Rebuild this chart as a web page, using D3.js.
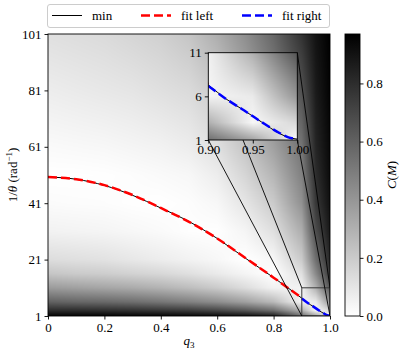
<!DOCTYPE html>
<html>
<head>
<meta charset="utf-8">
<script src="https://cdn.jsdelivr.net/npm/d3@7"></script>
<style>
  body { margin: 0; background: #fff; }
  text { font-family: "Liberation Serif", "DejaVu Serif", serif; }
</style>
</head>
<body>
<div id="chart-area"></div>
<script>
// grid of C(M) (rows = 1/theta, columns = q3)
const gridQ = [0, 0.1, 0.2, 0.3, 0.4, 0.5, 0.6, 0.7, 0.8, 0.9, 0.95, 1.0];
const gridInvTheta = [1, 3, 6, 11, 16, 21, 31, 41, 51, 61, 81, 101];
const costGrid = [
	[0.96, 0.96, 0.96, 0.95, 0.95, 0.94, 0.93, 0.91, 0.86, 0.55, 0.35, 0.0],
	[0.80, 0.80, 0.79, 0.78, 0.76, 0.74, 0.70, 0.64, 0.55, 0.30, 0.03, 0.15],
	[0.60, 0.58, 0.57, 0.55, 0.52, 0.48, 0.43, 0.36, 0.26, 0.04, 0.08, 0.40],
	[0.38, 0.36, 0.34, 0.32, 0.29, 0.25, 0.20, 0.13, 0.05, 0.05, 0.30, 0.65],
	[0.22, 0.20, 0.19, 0.17, 0.15, 0.12, 0.08, 0.04, 0.0, 0.12, 0.45, 0.76],
	[0.13, 0.12, 0.11, 0.09, 0.07, 0.05, 0.03, 0.0, 0.03, 0.20, 0.55, 0.82],
	[0.05, 0.045, 0.04, 0.03, 0.02, 0.005, 0.002, 0.04, 0.12, 0.31, 0.68, 0.88],
	[0.015, 0.012, 0.01, 0.003, 0.0, 0.01, 0.03, 0.10, 0.20, 0.42, 0.76, 0.91],
	[0.0, 0.0, 0.003, 0.01, 0.02, 0.03, 0.07, 0.16, 0.28, 0.48, 0.80, 0.93],
	[0.02, 0.025, 0.03, 0.04, 0.05, 0.07, 0.12, 0.22, 0.36, 0.53, 0.83, 0.94],
	[0.07, 0.08, 0.09, 0.10, 0.12, 0.14, 0.20, 0.33, 0.48, 0.66, 0.87, 0.96],
	[0.12, 0.13, 0.14, 0.16, 0.18, 0.22, 0.31, 0.43, 0.58, 0.78, 0.90, 0.97]
];

// curves
const minQ = [0, 0.1, 0.2, 0.3, 0.4, 0.5, 0.6, 0.7, 0.8, 0.9, 0.92, 0.94, 0.96, 0.98, 0.99, 1.0];
const minInvTheta = [50.3, 49.5, 47.3, 43.8, 39.3, 34.5, 28.5, 21.5, 14.6, 7.3, 5.7, 4.4, 3.05, 1.75, 1.3, 1.1];
const fitLeftQ = [0, 0.1, 0.2, 0.3, 0.4, 0.5, 0.6, 0.7, 0.8, 0.9];
const fitLeftInvTheta = [50.3, 49.5, 47.4, 43.9, 39.3, 34.4, 28.5, 21.6, 14.6, 7.4];
const fitRightQ = [0.9, 0.92, 0.94, 0.96, 0.98, 0.99, 1.0];
const fitRightInvTheta = [7.2, 5.7, 4.4, 3.05, 1.8, 1.3, 1.1];

// ticks
const xTicks = [0, 0.2, 0.4, 0.6, 0.8, 1.0];
const xTickLabels = ['0', '0.2', '0.4', '0.6', '0.8', '1.0'];
const yTicks = [1, 21, 41, 61, 81, 101];
const insetXTicks = [0.90, 0.95, 1.00];
const insetYTicks = [1, 6, 11];
const cbarTicks = [0, 0.2, 0.4, 0.6, 0.8];
const cMax = 0.97;

const width = 404, height = 354;
const main = {left: 48, right: 330, top: 34, bottom: 316};
const inset = {left: 208.3, right: 297.3, top: 52.7, bottom: 140};
const cbar = {left: 345, right: 360};
const fontSize = 13;

const svg = d3.select('#chart-area')
	.append('svg')
		.attr('width', width)
		.attr('height', height);

const grey = d3.scaleLinear().domain([0, cMax]).range(['#ffffff', '#000000']).clamp(true);

const xScale = d3.scaleLinear().domain([0, 1]).range([main.left, main.right]);
const yScale = d3.scaleLinear().domain([1, 101]).range([main.bottom, main.top]);
const xIn = d3.scaleLinear().domain([0.9, 1.0]).range([inset.left, inset.right]);
const yIn = d3.scaleLinear().domain([1, 11]).range([inset.bottom, inset.top]);

function clampIdx(i, n) { return Math.max(0, Math.min(n - 2, i)); }
function costAt(q, t) {
	const i = clampIdx(d3.bisectRight(gridQ, q) - 1, gridQ.length);
	const j = clampIdx(d3.bisectRight(gridInvTheta, t) - 1, gridInvTheta.length);
	const fx = Math.max(0, Math.min(1, (q - gridQ[i]) / (gridQ[i+1] - gridQ[i])));
	const fy = Math.max(0, Math.min(1, (t - gridInvTheta[j]) / (gridInvTheta[j+1] - gridInvTheta[j])));
	const a = costGrid[j][i], b = costGrid[j][i+1];
	const c = costGrid[j+1][i], d = costGrid[j+1][i+1];
	return (a*(1-fx) + b*fx)*(1-fy) + (c*(1-fx) + d*fx)*fy;
}

function heatImage(g, xs, ys) {
	const x0 = xs.range()[0], x1 = xs.range()[1];
	const y0 = ys.range()[1], y1 = ys.range()[0];
	const w = Math.round(x1 - x0), h = Math.round(y1 - y0);
	const canvas = document.createElement('canvas');
	canvas.width = w; canvas.height = h;
	const ctx = canvas.getContext('2d');
	const img = ctx.createImageData(w, h);
	for (let py = 0; py < h; py++) {
		const t = ys.invert(y0 + (py + 0.5) * (y1 - y0) / h);
		for (let px = 0; px < w; px++) {
			const q = xs.invert(x0 + (px + 0.5) * (x1 - x0) / w);
			const col = d3.rgb(grey(costAt(q, t)));
			const k = (py * w + px) * 4;
			img.data[k] = col.r; img.data[k+1] = col.g; img.data[k+2] = col.b; img.data[k+3] = 255;
		}
	}
	ctx.putImageData(img, 0, 0);
	g.append('image')
		.attr('x', x0).attr('y', y0)
		.attr('width', x1 - x0).attr('height', y1 - y0)
		.attr('preserveAspectRatio', 'none')
		.attr('href', canvas.toDataURL());
}

function drawCurves(g, xs, ys) {
	const line = (qs, ts) => d3.line()
		.x(i => xs(qs[i]))
		.y(i => ys(ts[i]))
		.curve(d3.curveMonotoneX)(d3.range(qs.length));
	g.append('path').attr('d', line(minQ, minInvTheta))
		.attr('fill', 'none').attr('stroke', '#000').attr('stroke-width', 1);
	g.append('path').attr('d', line(fitLeftQ, fitLeftInvTheta))
		.attr('fill', 'none').attr('stroke', '#ff0000').attr('stroke-width', 2.5)
		.attr('stroke-dasharray', '9,4');
	g.append('path').attr('d', line(fitRightQ, fitRightInvTheta))
		.attr('fill', 'none').attr('stroke', '#0000ff').attr('stroke-width', 2.5)
		.attr('stroke-dasharray', '9,4');
}

// MAIN PLOT
const defs = svg.append('defs');
defs.append('clipPath').attr('id', 'clip-main')
	.append('rect').attr('x', main.left).attr('y', main.top)
	.attr('width', main.right - main.left).attr('height', main.bottom - main.top);
defs.append('clipPath').attr('id', 'clip-inset')
	.append('rect').attr('x', inset.left).attr('y', inset.top)
	.attr('width', inset.right - inset.left).attr('height', inset.bottom - inset.top);

const gMain = svg.append('g').attr('clip-path', 'url(#clip-main)');
heatImage(gMain, xScale, yScale);
drawCurves(gMain, xScale, yScale);

// zoom indicator rectangle and connectors
const zx0 = xScale(0.9), zx1 = xScale(1.0), zy0 = yScale(11), zy1 = yScale(1);
gMain.append('rect')
	.attr('x', zx0).attr('y', zy0).attr('width', zx1 - zx0).attr('height', zy1 - zy0)
	.attr('fill', 'none').attr('stroke', '#3a3a3a').attr('stroke-width', 1);
const connectors = [
	[inset.left, inset.top, zx0, zy0],
	[inset.left, inset.bottom, zx0, zy1],
	[inset.right, inset.top, zx1, zy0],
	[inset.right, inset.bottom, zx1, zy1]
];
gMain.selectAll('line.conn').data(connectors).enter().append('line')
	.attr('class', 'conn')
	.attr('x1', d => d[0]).attr('y1', d => d[1])
	.attr('x2', d => d[2]).attr('y2', d => d[3])
	.attr('stroke', '#000').attr('stroke-width', 0.9);

// axes
function styleAxis(g) {
	g.attr('font-family', null).attr('font-size', null);
	g.select('.domain').remove();
	g.selectAll('line').attr('stroke', '#000').attr('stroke-width', 0.9);
	g.selectAll('text').attr('font-size', fontSize).attr('fill', '#000');
}
svg.append('g')
	.attr('transform', `translate(0,${main.bottom})`)
	.call(d3.axisBottom(xScale).tickValues(xTicks).tickFormat((d, i) => xTickLabels[i])
		.tickSize(3.5).tickPadding(3))
	.call(styleAxis);
svg.append('g')
	.attr('transform', `translate(${main.left},0)`)
	.call(d3.axisLeft(yScale).tickValues(yTicks).tickSize(3.5).tickPadding(3))
	.call(styleAxis);
svg.append('rect')
	.attr('x', main.left).attr('y', main.top)
	.attr('width', main.right - main.left).attr('height', main.bottom - main.top)
	.attr('fill', 'none').attr('stroke', '#000').attr('stroke-width', 0.9);

// labels
svg.append('text')
	.attr('x', (main.left + main.right) / 2).attr('y', 345)
	.attr('text-anchor', 'middle').attr('font-size', fontSize)
	.call(t => {
		t.append('tspan').attr('font-style', 'italic').text('q');
		t.append('tspan').attr('font-size', 9).attr('dy', 3).text('3');
	});
svg.append('text')
	.attr('transform', `translate(17,${(main.top + main.bottom) / 2}) rotate(-90)`)
	.attr('text-anchor', 'middle').attr('font-size', fontSize)
	.call(t => {
		t.append('tspan').text('1/');
		t.append('tspan').attr('font-style', 'italic').text('θ');
		t.append('tspan').text(' (rad');
		t.append('tspan').attr('font-size', 9).attr('dy', -5).text('−1');
		t.append('tspan').attr('dy', 5).text(')');
	});

// INSET
const gInset = svg.append('g').attr('clip-path', 'url(#clip-inset)');
heatImage(gInset, xIn, yIn);
drawCurves(gInset, xIn, yIn);
svg.append('rect')
	.attr('x', inset.left).attr('y', inset.top)
	.attr('width', inset.right - inset.left).attr('height', inset.bottom - inset.top)
	.attr('fill', 'none').attr('stroke', '#000').attr('stroke-width', 0.9);
svg.append('g')
	.attr('transform', `translate(0,${inset.bottom})`)
	.call(d3.axisBottom(xIn).tickValues(insetXTicks).tickFormat(d3.format('.2f'))
		.tickSize(3.5).tickPadding(1.5))
	.call(styleAxis);
svg.append('g')
	.attr('transform', `translate(${inset.left},0)`)
	.call(d3.axisLeft(yIn).tickValues(insetYTicks).tickSize(3.5).tickPadding(3))
	.call(styleAxis);

// COLORBAR
const cScale = d3.scaleLinear().domain([0, cMax]).range([main.bottom, main.top]);
const grad = defs.append('linearGradient').attr('id', 'cbar-grad')
	.attr('x1', 0).attr('y1', 1).attr('x2', 0).attr('y2', 0);
grad.append('stop').attr('offset', 0).attr('stop-color', grey(0));
grad.append('stop').attr('offset', 1).attr('stop-color', grey(cMax));
svg.append('rect')
	.attr('x', cbar.left).attr('y', main.top)
	.attr('width', cbar.right - cbar.left).attr('height', main.bottom - main.top)
	.attr('fill', 'url(#cbar-grad)').attr('stroke', '#000').attr('stroke-width', 0.9);
svg.append('g')
	.attr('transform', `translate(${cbar.right},0)`)
	.call(d3.axisRight(cScale).tickValues(cbarTicks).tickFormat(d3.format('.1f'))
		.tickSize(3.5).tickPadding(3))
	.call(styleAxis);
svg.append('text')
	.attr('transform', `translate(396,${(main.top + main.bottom) / 2}) rotate(-90)`)
	.attr('text-anchor', 'middle').attr('font-size', fontSize)
	.call(t => {
		t.append('tspan').attr('font-style', 'italic').text('C');
		t.append('tspan').text('(');
		t.append('tspan').attr('font-style', 'italic').text('M');
		t.append('tspan').text(')');
	});

// LEGEND
const legendItems = [
	{label: 'min', color: '#000', width: 1, dash: null, x: 52},
	{label: 'fit left', color: '#ff0000', width: 2.5, dash: '9,4', x: 141},
	{label: 'fit right', color: '#0000ff', width: 2.5, dash: '9,4', x: 242}
];
svg.append('rect')
	.attr('x', 47.5).attr('y', 4.5).attr('width', 282).attr('height', 23)
	.attr('rx', 2.5)
	.attr('fill', '#fff').attr('stroke', '#cccccc').attr('stroke-width', 1);
legendItems.forEach(item => {
	svg.append('line')
		.attr('x1', item.x).attr('x2', item.x + 30)
		.attr('y1', 15.5).attr('y2', 15.5)
		.attr('stroke', item.color).attr('stroke-width', item.width)
		.attr('stroke-dasharray', item.dash);
	svg.append('text')
		.attr('x', item.x + 40).attr('y', 20)
		.attr('font-size', fontSize)
		.text(item.label);
});
</script>
</body>
</html>
